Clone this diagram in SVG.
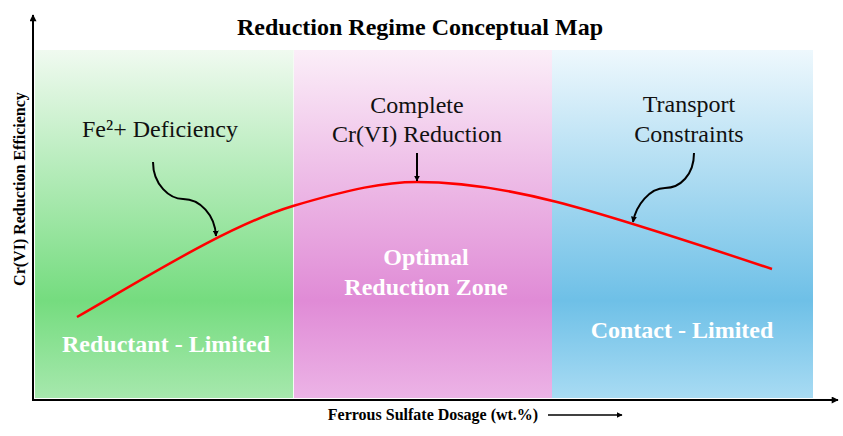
<svg xmlns="http://www.w3.org/2000/svg" width="843" height="436" viewBox="0 0 843 436">
  <defs>
    <linearGradient id="gGreen" x1="0" y1="0" x2="0" y2="1">
      <stop offset="0" stop-color="#f0faf0"/>
      <stop offset="0.72" stop-color="#75dc7f"/>
      <stop offset="1" stop-color="#a6e8ad"/>
    </linearGradient>
    <linearGradient id="gPink" x1="0" y1="0" x2="0" y2="1">
      <stop offset="0" stop-color="#fbeef8"/>
      <stop offset="0.72" stop-color="#e08bd6"/>
      <stop offset="1" stop-color="#ecb3e6"/>
    </linearGradient>
    <linearGradient id="gBlue" x1="0" y1="0" x2="0" y2="1">
      <stop offset="0" stop-color="#eef8fd"/>
      <stop offset="0.72" stop-color="#6ec0e7"/>
      <stop offset="1" stop-color="#a8dbf3"/>
    </linearGradient>
    <marker id="ah" viewBox="0 0 10 10" refX="9" refY="5" markerWidth="6" markerHeight="6" markerUnits="userSpaceOnUse" orient="auto">
      <path d="M0,0 L10,5 L0,10 z" fill="#000"/>
    </marker>
    <marker id="axh" viewBox="0 0 10 10" refX="9" refY="5" markerWidth="8" markerHeight="7" markerUnits="userSpaceOnUse" orient="auto">
      <path d="M0,0 L10,5 L0,10 z" fill="#000"/>
    </marker>
  </defs>
  <style>
    .title { font-family: "Liberation Serif", "Times New Roman", serif; font-weight: bold; font-size: 24px; fill: #000; }
    .note { font-family: "Liberation Serif", "Times New Roman", serif; font-size: 24px; fill: #111; }
    .zone { font-family: "Liberation Serif", "Times New Roman", serif; font-weight: bold; font-size: 24px; fill: #ffffff; }
    .axis { font-family: "Liberation Serif", "Times New Roman", serif; font-weight: bold; font-size: 16px; fill: #000; }
    .ann { fill: none; stroke: #000; stroke-width: 2; marker-end: url(#ah); }
  </style>
  <rect width="843" height="436" fill="#ffffff"/>

  <g id="zone-reductant">
    <rect x="35" y="50" width="258" height="348" fill="url(#gGreen)"/>
    <text class="zone" x="166" y="352" text-anchor="middle">Reductant - Limited</text>
  </g>
  <g id="zone-optimal">
    <rect x="294" y="50" width="258" height="348" fill="url(#gPink)"/>
    <line x1="293.5" y1="50" x2="293.5" y2="398" stroke="#f4fbf4" stroke-width="1"/>
    <text class="zone" x="426" y="265" text-anchor="middle">Optimal</text>
    <text class="zone" x="426" y="295" text-anchor="middle">Reduction Zone</text>
  </g>
  <g id="zone-contact">
    <rect x="552" y="50" width="261" height="348" fill="url(#gBlue)"/>
    <text class="zone" x="682" y="338" text-anchor="middle">Contact - Limited</text>
  </g>

  <g id="curve">
    <path d="M77,317 C150,275 230,225 293,206 C350,189 385,182 417,182 C460,182 510,190 557,202 C600,213 700,245 772,269" fill="none" stroke="#ff0000" stroke-width="2.5"/>
  </g>

  <g id="label-fe">
    <text class="note" x="160" y="137" text-anchor="middle">Fe²+ Deficiency</text>
  </g>
  <g id="label-complete">
    <text class="note" x="417" y="113" text-anchor="middle">Complete</text>
    <text class="note" x="417" y="142" text-anchor="middle">Cr(VI) Reduction</text>
  </g>
  <g id="label-transport">
    <text class="note" x="689" y="112" text-anchor="middle">Transport</text>
    <text class="note" x="689" y="142" text-anchor="middle">Constraints</text>
  </g>

  <g id="connectors">
    <path class="ann" d="M153,162 C153,185 170,199 183,199 C200,199 215,215 216,236"/>
    <path class="ann" d="M417,153 L417,181"/>
    <path class="ann" d="M694,153 C694,175 680,188 665,188 C650,188 636,205 633,222"/>
  </g>

  <g id="axes">
    <line x1="33" y1="401" x2="33" y2="15" stroke="#000" stroke-width="2" marker-end="url(#axh)"/>
    <line x1="32" y1="400" x2="838" y2="400" stroke="#000" stroke-width="2" marker-end="url(#axh)"/>
    <line x1="548" y1="415" x2="622" y2="415" stroke="#000" stroke-width="1.5" marker-end="url(#ah)"/>
  </g>

  <g id="title">
    <text class="title" x="420" y="35" text-anchor="middle">Reduction Regime Conceptual Map</text>
  </g>
  <g id="axis-labels">
    <text class="axis" transform="translate(25,189) rotate(-90)" text-anchor="middle">Cr(VI) Reduction Efficiency</text>
    <text class="axis" x="433" y="420" text-anchor="middle">Ferrous Sulfate Dosage (wt.%)</text>
  </g>
</svg>
